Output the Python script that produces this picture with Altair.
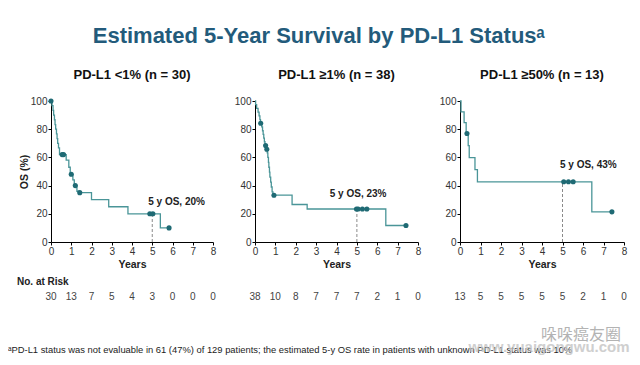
import altair as alt
import pandas as pd

FONT = "Liberation Sans"
LINE_COLOR = "#4a9598"
DOT_COLOR = "#1f6a74"
TITLE_COLOR = "#235b7b"

MAIN_TITLE = "Estimated 5-Year Survival by PD-L1 Status\u1d43"
PANEL_TITLES = ["PD-L1 <1% (n = 30)", "PD-L1 \u22651% (n = 38)", "PD-L1 \u226550% (n = 13)"]
FOOTNOTE = ("\u1d43PD-L1 status was not evaluable in 61 (47%) of 129 patients; "
            "the estimated 5-y OS rate in patients with unknown PD-L1 status was 10%")

X_TICKS = [0, 1, 2, 3, 4, 5, 6, 7, 8]
Y_TICKS = [0, 20, 40, 60, 80, 100]

# Panel 1: PD-L1 <1%
p1_times = [0, 0.05, 0.1, 0.13, 0.17, 0.2, 0.23, 0.27, 0.3, 0.33, 0.37, 0.42, 0.75, 0.88,
            0.95, 1.08, 1.15, 1.28, 1.35, 2.0, 2.85, 3.8, 5.4, 5.83]
p1_surv = [100, 96.7, 93.3, 90, 86.7, 83.3, 80, 76.7, 73.3, 70, 66.7, 62, 58, 53,
           48, 44, 40, 36, 35, 30, 25, 20, 10, 10]
p1_cens_t = [0, 0.55, 0.62, 1.0, 1.2, 1.42, 4.88, 5.03, 5.83]
p1_cens_s = [100, 62, 62, 48, 40, 35, 20, 20, 10]
p1_risk = [30, 13, 7, 5, 4, 3, 0, 0, 0]

# Panel 2: PD-L1 >=1%
p2_times = [0, 0.03, 0.08, 0.15, 0.2, 0.24, 0.27, 0.33, 0.37, 0.4, 0.43, 0.46, 0.49, 0.55,
            0.6, 0.63, 0.66, 0.68, 0.71, 0.73, 0.77, 0.8, 0.84, 0.88, 1.82, 2.56, 6.42, 7.41]
p2_surv = [100, 97.4, 94.7, 92.1, 89.5, 86.8, 84.2, 81.6, 78.9, 76.3, 73.7, 71.1, 68.4, 65.8,
           63.2, 60, 56.5, 53, 49.5, 46, 42.5, 39, 35.5, 33.2, 26.6, 23.4, 11.7, 11.7]
p2_cens_t = [0.28, 0.52, 0.58, 0.93, 4.98, 5.06, 5.27, 5.49, 7.41]
p2_cens_s = [84.2, 68.4, 65.8, 33.2, 23.4, 23.4, 23.4, 23.4, 11.7]
p2_risk = [38, 10, 8, 7, 7, 7, 2, 1, 0]

# Panel 3: PD-L1 >=50%
p3_times = [0, 0.05, 0.2, 0.3, 0.4, 0.45, 0.73, 0.85, 6.43, 7.41]
p3_surv = [100, 92.3, 84.6, 76.9, 68.4, 59.8, 51.3, 42.7, 21.4, 21.4]
p3_cens_t = [0.34, 5.06, 5.29, 5.52, 7.41]
p3_cens_s = [76.9, 42.7, 42.7, 42.7, 21.4]
p3_risk = [13, 5, 5, 5, 5, 5, 2, 1, 0]

# 5-year OS annotations
os5_value = [20, 23.4, 42.7]
os5_label = ["5 y OS, 20%", "5 y OS, 23%", "5 y OS, 43%"]
os5_label_x = [6.2, 5.06, 6.26]
os5_label_y = [28.3, 34.3, 54.3]

PANELS = [
    (p1_times, p1_surv, p1_cens_t, p1_cens_s, p1_risk),
    (p2_times, p2_surv, p2_cens_t, p2_cens_s, p2_risk),
    (p3_times, p3_surv, p3_cens_t, p3_cens_s, p3_risk),
]
WIDTHS = [162, 163, 164]
PLOT_H = 141


def make_panel(i):
    times, surv, ct, cs, risk = PANELS[i]
    xs = alt.Scale(domain=[0, 8], nice=False)
    ys = alt.Scale(domain=[0, 100], nice=False)
    xaxis = alt.Axis(values=X_TICKS, title="Years", format="d", tickCount=9)
    if i == 0:
        yaxis = alt.Axis(values=Y_TICKS, title="OS (%)", tickCount=6)
    else:
        yaxis = alt.Axis(values=Y_TICKS, title=None, tickCount=6)

    def X(field):
        return alt.X(field, scale=xs, axis=xaxis)

    def Y(field):
        return alt.Y(field, scale=ys, axis=yaxis)

    line = alt.Chart(pd.DataFrame({"t": times, "s": surv})).mark_line(
        interpolate="step-after", color=LINE_COLOR, strokeWidth=1.3
    ).encode(x=X("t:Q"), y=Y("s:Q"))
    dots = alt.Chart(pd.DataFrame({"t": ct, "s": cs})).mark_circle(
        color=DOT_COLOR, size=26, opacity=1
    ).encode(x=X("t:Q"), y=Y("s:Q"))

    rule = alt.Chart(pd.DataFrame({"t": [5], "y0": [0], "y1": [os5_value[i]]})).mark_rule(
        color="#8a8a8a", strokeDash=[3, 2], strokeWidth=1
    ).encode(x=X("t:Q"), y=Y("y0:Q"), y2="y1:Q")

    label = alt.Chart(pd.DataFrame({"t": [os5_label_x[i]], "s": [os5_label_y[i]],
                                    "txt": [os5_label[i]]})).mark_text(
        font=FONT, fontSize=10, fontWeight="bold", color="#222"
    ).encode(x=X("t:Q"), y=Y("s:Q"), text="txt:N")

    risk_txt = alt.Chart(pd.DataFrame({"t": X_TICKS, "n": risk})).mark_text(
        font=FONT, fontSize=10, color="#444"
    ).encode(x=X("t:Q"), y=alt.value(196), text="n:N")

    layers = [rule, line, dots, label, risk_txt]

    if i == 0:
        nar = alt.Chart(pd.DataFrame({"txt": ["No. at Risk"]})).mark_text(
            font=FONT, fontSize=10, fontWeight="bold", color="#222", align="left"
        ).encode(x=alt.value(-34), y=alt.value(181), text="txt:N")
        foot = alt.Chart(pd.DataFrame({"txt": [FOOTNOTE]})).mark_text(
            font=FONT, fontSize=9.4, color="#222", align="left"
        ).encode(x=alt.value(-43), y=alt.value(249), text="txt:N")
        layers += [nar, foot]
    if i == 2:
        wm = alt.Chart(pd.DataFrame({"txt": ["\u54da\u54da\u764c\u53cb\u5708"]})).mark_text(
            font="Noto Sans CJK SC", fontSize=16, color="#9a9a9a", opacity=0.75
        ).encode(x=alt.value(121), y=alt.value(234), text="txt:N")
        wm2 = alt.Chart(pd.DataFrame({"txt": ["www.yuaigongwu.com"]})).mark_text(
            font=FONT, fontSize=15, fontWeight="bold", color="#c4c4c4", opacity=0.8
        ).encode(x=alt.value(89), y=alt.value(246), text="txt:N")
        layers += [wm, wm2]

    return alt.layer(*layers).properties(
        width=WIDTHS[i], height=PLOT_H,
        title=alt.TitleParams(PANEL_TITLES[i], font=FONT, fontSize=13, fontWeight="bold",
                              color="#111", offset=14, anchor="middle"),
    )


chart = alt.hconcat(
    make_panel(0), make_panel(1), make_panel(2), spacing=42, bounds="flush"
).properties(
    title=alt.TitleParams(MAIN_TITLE, font=FONT, fontSize=22, fontWeight="bold",
                          color=TITLE_COLOR, anchor="middle", offset=21),
    padding={"left": 0, "top": 17, "right": 0, "bottom": 0},
).configure_view(strokeWidth=0).configure_axis(
    grid=False, domainColor="#000", tickColor="#000", tickSize=3, labelPadding=1,
    labelOverlap=False, labelFlush=False,
    labelFont=FONT, labelFontSize=10, labelColor="#333",
    titleFont=FONT, titleFontSize=10.5, titleFontWeight="bold", titleColor="#222",
).configure_axisX(titlePadding=3).configure_axisY(titlePadding=1)

chart.save("out.html", embed_options={"renderer": "svg", "actions": False})
